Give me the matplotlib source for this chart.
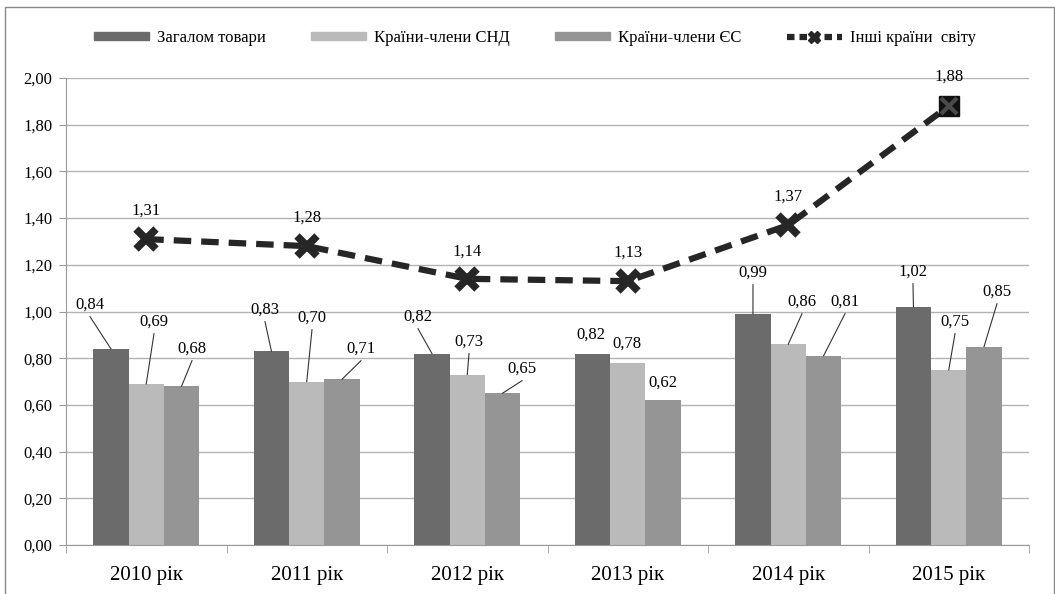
import numpy as np
import matplotlib
matplotlib.use("Agg")
import matplotlib.pyplot as plt
from matplotlib.patches import Rectangle
from matplotlib.lines import Line2D
from matplotlib.patches import Patch

plt.rcParams['font.family'] = ['Liberation Serif', 'DejaVu Serif']

years = ['2010 рік', '2011 рік', '2012 рік', '2013 рік', '2014 рік', '2015 рік']
total = [0.84, 0.83, 0.82, 0.82, 0.99, 1.02]
cis = [0.69, 0.70, 0.73, 0.78, 0.86, 0.75]
eu = [0.68, 0.71, 0.65, 0.62, 0.81, 0.85]
other = [1.31, 1.28, 1.14, 1.13, 1.37, 1.88]
names = ['Загалом товари', 'Країни-члени СНД', 'Країни-члени ЄС', 'Інші країни  світу']

# where the bar labels sit (pixels of the original picture) and whether a leader is drawn
lab_px = [
    [(90, 305), (154, 322), (192, 349)],
    [(265, 310), (312, 318), (361, 349)],
    [(418, 317), (469, 342), (522, 369)],
    [(591, 335), (627, 344), (663, 383)],
    [(753, 273), (802, 302), (845, 302)],
    [(913, 272), (955, 322), (997, 292)],
]
leader = [
    [1, 1, 1],
    [1, 1, 1],
    [1, 1, 1],
    [0, 0, 0],
    [1, 1, 1],
    [1, 1, 1],
]
line_lab_py = [211, 218, 252, 253, 197, 77]


def px2data(px, py):
    return (px - 66) / 160.5 - 0.5, (545 - py) / 233.5


def fmt(v):
    return f"{v:.2f}".replace('.', ',')


colors = ['#6b6b6b', '#bababa', '#959595']
fig = plt.figure(figsize=(10.55, 5.94), dpi=100)
ax = fig.add_axes([66 / 1055, 49 / 594, 963 / 1055, 467 / 594])

x = np.arange(len(years))
w = 0.22
series = [total, cis, eu]
for i, (vals, c) in enumerate(zip(series, colors)):
    ax.bar(x + (i - 1) * w, vals, w, color=c, zorder=2)

dash = (0, (2.8, 1.6))
ax.plot(x, other, color='#262626', lw=4.5, ls=dash, zorder=4)
ax.plot(x[:-1], other[:-1], ls='none', color='#262626', marker='x', ms=14, mew=5.5, zorder=5)
ax.plot(x[-1], other[-1], marker='s', ms=15, color='#111111', zorder=5)
ax.plot(x[-1], other[-1], marker='x', ms=11, mew=3, color='#4a4a4a', zorder=6)

# bar labels with leader lines
for g in range(len(years)):
    for i, vals in enumerate(series):
        bx = x[g] + (i - 1) * w
        lx, ly = px2data(*lab_px[g][i])
        ax.text(lx, ly, fmt(vals[g]), ha='center', va='center', fontsize=12, zorder=7)
        if leader[g][i]:
            ax.plot([lx, bx], [ly - 0.05, vals[g]], color='#333333', lw=0.8, zorder=7)

for g in range(len(years)):
    _, ly = px2data(0, line_lab_py[g])
    ax.text(x[g], ly, fmt(other[g]), ha='center', va='center', fontsize=12, zorder=7)

yt = np.arange(0, 2.01, 0.2)
ax.set_ylim(0, 2.0)
ax.set_xlim(-0.5, len(years) - 0.5)
ax.set_yticks(yt)
ax.set_yticklabels([fmt(v) for v in yt], fontsize=12)
ax.yaxis.grid(True, color='#b3b3b3', lw=1, zorder=0)
ax.set_axisbelow(True)
ax.set_xticks(x)
ax.set_xticklabels(years, fontsize=15)
ax.tick_params(axis='x', length=0, pad=15)
ax.set_xticks(np.arange(-0.5, len(years), 1), minor=True)
ax.tick_params(axis='x', which='minor', length=6, color='#999999')
ax.tick_params(axis='y', length=5, color='#999999', pad=5)
for s in ['top', 'right']:
    ax.spines[s].set_visible(False)
ax.spines['left'].set_color('#999999')
ax.spines['bottom'].set_color('#999999')

handles = [Patch(color=c) for c in colors]
handles.append(Line2D([], [], color='#262626', lw=4.5, ls=(0, (1.2, 0.8)), marker='X', ms=9))
fig.legend(handles, names, loc='center', bbox_to_anchor=(0.507, 0.936), ncol=4,
           frameon=False, fontsize=12, handlelength=3.3, handleheight=0.42,
           columnspacing=2.7, handletextpad=0.5)

fig.patches.append(Rectangle((5 / 1055, -0.05), 1049 / 1055, 1.05 - 7 / 594, fill=False,
                             edgecolor='#888888', lw=1, transform=fig.transFigure))

fig.savefig('out.png', dpi=100)
